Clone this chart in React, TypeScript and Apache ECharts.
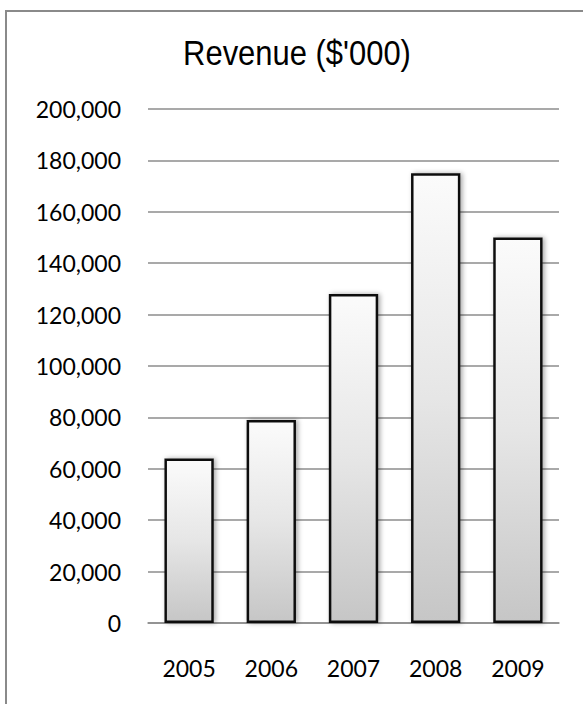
import React, { useEffect, useRef } from "react";
import * as echarts from "echarts";

const categories = ["2005", "2006", "2007", "2008", "2009"];
const revenue = [64000, 79000, 128000, 175000, 150000];
const titleText = "Revenue ($'000)";
const yMin = 0;
const yMax = 200000;
const yInterval = 20000;

export default function App() {
  const ref = useRef<HTMLDivElement>(null);
  useEffect(() => {
    if (!ref.current) return;
    const chart = echarts.init(ref.current, null, { renderer: "svg" });
    chart.setOption({
      animation: false,
      backgroundColor: "#ffffff",
      graphic: [
        {
          type: "rect",
          shape: { x: 6, y: 11, width: 700, height: 800 },
          style: { fill: "none", stroke: "#8a8a8a", lineWidth: 2 },
          silent: true,
        },
        {
          type: "text",
          x: 297,
          y: 53,
          scaleX: 0.86,
          style: {
            text: titleText,
            align: "center",
            verticalAlign: "middle",
            fontFamily: "'Liberation Sans', Arial, sans-serif",
            fontSize: 36,
            fill: "#000",
          },
          silent: true,
        },
      ],
      grid: { left: 148, right: 24, top: 109, bottom: 81 },
      xAxis: {
        type: "category",
        data: categories,
        axisLine: { show: true, lineStyle: { color: "#8c8c8c", width: 1.5 } },
        axisTick: { show: false },
        axisLabel: {
          margin: 33,
          fontFamily: "Lato, 'Open Sans', sans-serif",
          fontSize: 23,
          color: "#000",
        },
      },
      yAxis: {
        type: "value",
        min: yMin,
        max: yMax,
        interval: yInterval,
        axisLine: { show: false },
        axisTick: { show: false },
        splitLine: { lineStyle: { color: "#8c8c8c", width: 1.5 } },
        axisLabel: {
          margin: 27,
          fontFamily: "Lato, 'Open Sans', sans-serif",
          fontSize: 23,
          color: "#000",
          formatter: (v: number) => v.toLocaleString("en-US"),
        },
      },
      series: [
        {
          type: "bar",
          data: revenue,
          barWidth: "60%",
          itemStyle: {
            color: new echarts.graphic.LinearGradient(0, 0, 0, 1, [
              { offset: 0, color: "#fbfbfb" },
              { offset: 0.5, color: "#e6e6e6" },
              { offset: 1, color: "#c6c6c6" },
            ]),
            borderColor: "#111",
            borderWidth: 2.5,
            shadowBlur: 5,
            shadowColor: "rgba(0,0,0,0.35)",
            shadowOffsetX: 2,
            shadowOffsetY: 0,
          },
        },
      ],
    });
    return () => chart.dispose();
  }, []);
  return (
    <div
      ref={ref}
      style={{ position: "fixed", left: 0, top: 0, width: 583, height: 704 }}
    />
  );
}
